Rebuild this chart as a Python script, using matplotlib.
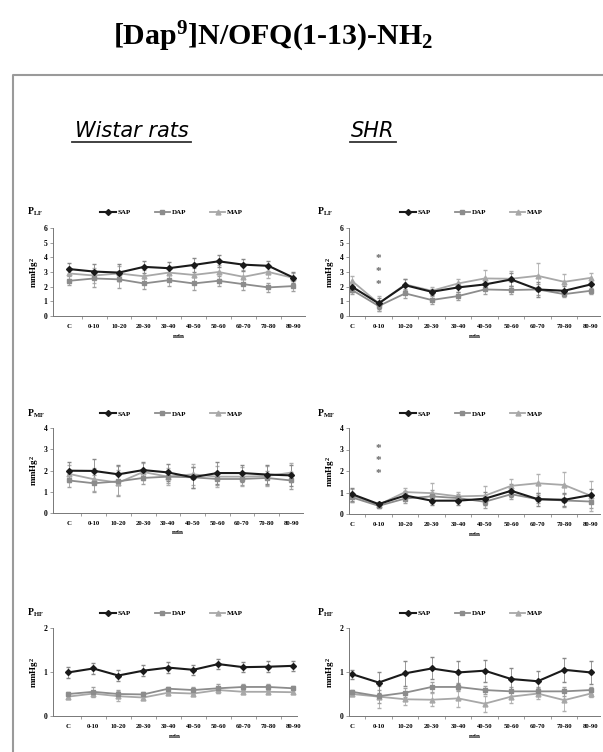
import matplotlib
matplotlib.use('Agg')
import matplotlib.pyplot as plt
from matplotlib.lines import Line2D
import numpy as np

plt.rcParams['font.family'] = ['Liberation Serif', 'DejaVu Serif']
plt.rcParams['mathtext.default'] = 'regular'

categories = ['C', '0-10', '10-20', '20-30', '30-40', '40-50', '50-60', '60-70', '70-80', '80-90']

# Wistar rats, LF
w_lf_sap = [3.2, 3.03, 2.96, 3.35, 3.26, 3.48, 3.73, 3.5, 3.42, 2.62]
w_lf_sap_err = [0.4, 0.5, 0.6, 0.4, 0.4, 0.5, 0.4, 0.4, 0.35, 0.4]
w_lf_dap = [2.4, 2.56, 2.5, 2.22, 2.44, 2.22, 2.4, 2.17, 1.95, 2.04]
w_lf_dap_err = [0.3, 0.6, 0.6, 0.35, 0.4, 0.45, 0.35, 0.4, 0.3, 0.35]
w_lf_map = [2.9, 2.76, 2.9, 2.71, 2.96, 2.8, 3.0, 2.67, 3.0, 2.6]
w_lf_map_err = [0.4, 0.5, 0.5, 0.4, 0.4, 0.5, 0.45, 0.45, 0.4, 0.35]

# SHR, LF
s_lf_sap = [1.99, 0.86, 2.1, 1.65, 1.95, 2.15, 2.49, 1.81, 1.72, 2.15]
s_lf_sap_err = [0.35, 0.4, 0.4, 0.2, 0.3, 0.4, 0.45, 0.5, 0.3, 0.3]
s_lf_dap = [1.77, 0.68, 1.54, 1.09, 1.36, 1.81, 1.77, 1.81, 1.49, 1.72]
s_lf_dap_err = [0.3, 0.35, 0.3, 0.3, 0.3, 0.3, 0.3, 0.35, 0.2, 0.2]
s_lf_map = [2.38, 0.86, 2.15, 1.72, 2.22, 2.56, 2.54, 2.74, 2.33, 2.6]
s_lf_map_err = [0.35, 0.5, 0.4, 0.25, 0.3, 0.6, 0.5, 0.9, 0.55, 0.35]
s_lf_stars = [3.9, 3.06, 2.17]

# Wistar rats, MF
w_mf_sap = [1.99, 1.98, 1.82, 2.02, 1.91, 1.68, 1.88, 1.88, 1.81, 1.77]
w_mf_sap_err = [0.4, 0.55, 0.45, 0.4, 0.4, 0.5, 0.5, 0.4, 0.45, 0.5]
w_mf_dap = [1.53, 1.4, 1.49, 1.65, 1.71, 1.68, 1.6, 1.6, 1.65, 1.53]
w_mf_dap_err = [0.3, 0.4, 0.7, 0.3, 0.3, 0.5, 0.3, 0.3, 0.35, 0.4]
w_mf_map = [1.84, 1.59, 1.43, 1.93, 1.71, 1.82, 1.71, 1.71, 1.74, 1.9]
w_mf_map_err = [0.4, 0.55, 0.6, 0.4, 0.4, 0.5, 0.5, 0.45, 0.45, 0.45]

# SHR, MF
s_mf_sap = [0.92, 0.46, 0.86, 0.62, 0.62, 0.71, 1.08, 0.69, 0.66, 0.88]
s_mf_sap_err = [0.3, 0.1, 0.2, 0.2, 0.2, 0.3, 0.3, 0.3, 0.3, 0.3]
s_mf_dap = [0.77, 0.38, 0.72, 0.82, 0.74, 0.57, 0.92, 0.69, 0.63, 0.58]
s_mf_dap_err = [0.2, 0.1, 0.2, 0.3, 0.2, 0.3, 0.2, 0.2, 0.3, 0.3]
s_mf_map = [0.86, 0.43, 1.02, 0.97, 0.82, 0.85, 1.31, 1.43, 1.35, 0.85]
s_mf_map_err = [0.3, 0.1, 0.2, 0.45, 0.2, 0.45, 0.3, 0.45, 0.6, 0.7]
s_mf_stars = [3.05, 2.48, 1.89]

# Wistar rats, HF
w_hf_sap = [0.99, 1.08, 0.92, 1.03, 1.1, 1.05, 1.18, 1.11, 1.12, 1.14]
w_hf_sap_err = [0.12, 0.12, 0.12, 0.13, 0.12, 0.12, 0.12, 0.12, 0.12, 0.12]
w_hf_dap = [0.5, 0.55, 0.5, 0.49, 0.62, 0.59, 0.63, 0.66, 0.66, 0.63]
w_hf_dap_err = [0.05, 0.12, 0.1, 0.05, 0.05, 0.08, 0.1, 0.06, 0.06, 0.05]
w_hf_map = [0.44, 0.51, 0.45, 0.42, 0.53, 0.51, 0.59, 0.55, 0.55, 0.54]
w_hf_map_err = [0.05, 0.05, 0.12, 0.05, 0.05, 0.05, 0.07, 0.05, 0.05, 0.05]

# SHR, HF
s_hf_sap = [0.95, 0.76, 0.97, 1.08, 0.99, 1.03, 0.84, 0.79, 1.05, 0.99]
s_hf_sap_err = [0.1, 0.23, 0.28, 0.25, 0.27, 0.25, 0.25, 0.23, 0.27, 0.26]
s_hf_dap = [0.55, 0.45, 0.53, 0.66, 0.66, 0.59, 0.56, 0.56, 0.56, 0.59]
s_hf_dap_err = [0.05, 0.15, 0.1, 0.12, 0.1, 0.1, 0.1, 0.1, 0.1, 0.08]
s_hf_map = [0.5, 0.44, 0.38, 0.37, 0.4, 0.28, 0.44, 0.51, 0.36, 0.51]
s_hf_map_err = [0.05, 0.25, 0.12, 0.15, 0.2, 0.18, 0.15, 0.12, 0.25, 0.08]

W, H = 603, 752
fig = plt.figure(figsize=(W / 100, H / 100), dpi=100)

SAP_STYLE = dict(color='#1a1a1a', marker='D', ms=3, lw=1.5)
DAP_STYLE = dict(color='#8c8c8c', marker='s', ms=3.2, lw=1.3)
MAP_STYLE = dict(color='#a8a8a8', marker='^', ms=3.5, lw=1.3)


def fx(px):
    return px / W


def fy(py):
    return 1 - py / H


def panel(rect, xlim, ymax, sap, sap_e, dap, dap_e, mp, mp_e, plabel, label_x, label_y, leg_x, stars=None):
    l, r, top, bot = rect
    ax = fig.add_axes([fx(l), fy(bot), fx(r - l), fy(top) - fy(bot)])
    x = np.arange(len(categories))
    ax.errorbar(x, mp, yerr=mp_e, elinewidth=0.6, capsize=1.5, ecolor='#b0b0b0', **MAP_STYLE)
    ax.errorbar(x, dap, yerr=dap_e, elinewidth=0.6, capsize=1.5, ecolor='#a0a0a0', **DAP_STYLE)
    ax.errorbar(x, sap, yerr=sap_e, elinewidth=0.6, capsize=1.5, ecolor='#888888', **SAP_STYLE)
    if stars:
        for s in stars:
            ax.text(1, s, '*', ha='center', va='center', fontsize=8, color='#666666',
                    fontweight='bold')
    ax.set_xlim(*xlim)
    ax.set_ylim(0, ymax)
    ax.set_yticks(range(0, ymax + 1))
    ax.set_xticks(x)
    ax.set_xticklabels(categories, fontsize=4.8, fontweight='bold')
    ax.set_xticks(x[:-1] + 0.5, minor=True)
    ax.tick_params(axis='x', which='major', length=0, pad=6)
    ax.tick_params(axis='x', which='minor', length=2, width=0.5, color='#777777')
    ax.tick_params(axis='y', length=2, width=0.5, color='#777777', labelsize=5.5, pad=2)
    for t in ax.get_yticklabels():
        t.set_fontweight('bold')
    for s in ['top', 'right']:
        ax.spines[s].set_visible(False)
    for s in ['left', 'bottom']:
        ax.spines[s].set_color('#777777')
        ax.spines[s].set_linewidth(0.7)
    ax.set_xlabel('min', fontsize=5, fontweight='bold', labelpad=3)
    ax.set_ylabel('mmHg$^2$', fontsize=6.5, fontweight='bold', labelpad=2)
    fig.text(fx(label_x), fy(label_y), plabel, fontsize=7, fontweight='bold', va='center')
    handles = [Line2D([], [], **SAP_STYLE), Line2D([], [], **DAP_STYLE), Line2D([], [], **MAP_STYLE)]
    ax.legend(handles, ['SAP', 'DAP', 'MAP'], ncol=3, loc='center left',
              bbox_to_anchor=(fx(leg_x), fy(label_y)), bbox_transform=fig.transFigure,
              frameon=False, handlelength=2.2, handletextpad=0.2,
              columnspacing=3.5, borderpad=0, prop={'weight': 'bold', 'size': 5})
    return ax


w_xlim = (-0.65, 9.47)
s_xlim = (-0.12, 9.35)

panel((53, 305, 228, 316), w_xlim, 6, w_lf_sap, w_lf_sap_err, w_lf_dap, w_lf_dap_err,
      w_lf_map, w_lf_map_err, 'P$_{LF}$', 27, 212, 97)
panel((349, 600, 228, 316), s_xlim, 6, s_lf_sap, s_lf_sap_err, s_lf_dap, s_lf_dap_err,
      s_lf_map, s_lf_map_err, 'P$_{LF}$', 317, 212, 397, stars=s_lf_stars)
panel((53, 303, 428, 513), w_xlim, 4, w_mf_sap, w_mf_sap_err, w_mf_dap, w_mf_dap_err,
      w_mf_map, w_mf_map_err, 'P$_{MF}$', 27, 414, 97)
panel((349, 600, 428, 514), s_xlim, 4, s_mf_sap, s_mf_sap_err, s_mf_dap, s_mf_dap_err,
      s_mf_map, s_mf_map_err, 'P$_{MF}$', 317, 414, 397, stars=s_mf_stars)
panel((53, 297, 628, 716), (-0.61, 9.15), 2, w_hf_sap, w_hf_sap_err, w_hf_dap, w_hf_dap_err,
      w_hf_map, w_hf_map_err, 'P$_{HF}$', 27, 613, 97)
panel((349, 600, 628, 716), s_xlim, 2, s_hf_sap, s_hf_sap_err, s_hf_dap, s_hf_dap_err,
      s_hf_map, s_hf_map_err, 'P$_{HF}$', 317, 613, 397)

# title
fig.text(fx(273), fy(37), '[Dap$^9$]N/OFQ(1-13)-NH$_2$', ha='center', va='center',
         fontsize=21.5, fontweight='bold')

# frame around the panels
fig.add_artist(Line2D([fx(13), fx(13), 1.0], [0.0, fy(75), fy(75)], color='#9a9a9a', lw=1.5))

# group headers, underlined
fig.text(fx(132), fy(131), 'Wistar rats', ha='center', va='center', fontsize=15,
         style='italic', family='DejaVu Sans')
fig.add_artist(Line2D([fx(72), fx(191)], [fy(142), fy(142)], color='#333333', lw=1.3))
fig.text(fx(373), fy(131), 'SHR', ha='center', va='center', fontsize=15,
         style='italic', family='DejaVu Sans')
fig.add_artist(Line2D([fx(350), fx(396)], [fy(142), fy(142)], color='#333333', lw=1.3))

fig.savefig('out.png', dpi=100)
